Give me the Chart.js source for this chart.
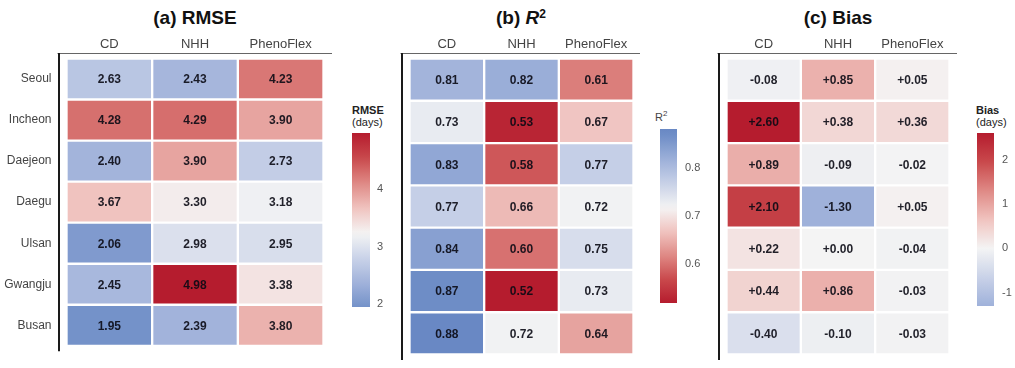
<!DOCTYPE html>
<html>
<head>
<meta charset="utf-8">
<script src="https://cdn.jsdelivr.net/npm/chart.js@4.4.0/dist/chart.umd.min.js"></script>
<style>
  body { margin: 0; background: #fff; font-family: "Liberation Sans", Arial, sans-serif; }
  #wrap { position: relative; width: 1015px; height: 368px; overflow: hidden; }
  canvas { position: absolute; top: 0; }
  .title { position: absolute; top: 8px; width: 200px; text-align: center; font-weight: bold; font-size: 19px; line-height: 19px; color: #111; }
  .title sup { font-size: 12px; position: relative; top: -3px; vertical-align: top; }
  .cbt { position: absolute; font-size: 11px; line-height: 12px; color: #222; }
  .cbt sup { font-size: 8px; vertical-align: top; position: relative; top: -3px; }
</style>
</head>
<body>
<div id="wrap">
  <div class="title" style="left:95px">(a) RMSE</div>
  <div class="title" style="left:421px">(b) <i>R</i><sup>2</sup></div>
  <div class="title" style="left:738px">(c) Bias</div>
  <div class="cbt" style="left:352px; top:104px"><b>RMSE</b><br>(days)</div>
  <div class="cbt" style="left:655px; top:111px; color:#444">R<sup>2</sup></div>
  <div class="cbt" style="left:976px; top:104px"><b>Bias</b><br>(days)</div>

  <canvas id="heatA" width="340" height="368" style="left:0px"></canvas>
  <canvas id="barA" width="60" height="368" style="left:340px"></canvas>
  <canvas id="heatB" width="250" height="368" style="left:395px"></canvas>
  <canvas id="barB" width="60" height="368" style="left:648px"></canvas>
  <canvas id="heatC" width="250" height="368" style="left:712px"></canvas>
  <canvas id="barC" width="50" height="368" style="left:965px"></canvas>
</div>
<script>
// rows and columns
const cities = ["Seoul", "Incheon", "Daejeon", "Daegu", "Ulsan", "Gwangju", "Busan"];
const methods = ["CD", "NHH", "PhenoFlex"];

// RMSE (days)
const rmseCD = [2.63, 4.28, 2.40, 3.67, 2.06, 2.45, 1.95];
const rmseNHH = [2.43, 4.29, 3.90, 3.30, 2.98, 4.98, 2.39];
const rmsePheno = [4.23, 3.90, 2.73, 3.18, 2.95, 3.38, 3.80];

// R squared
const r2CD = [0.81, 0.73, 0.83, 0.77, 0.84, 0.87, 0.88];
const r2NHH = [0.82, 0.53, 0.58, 0.66, 0.60, 0.52, 0.72];
const r2Pheno = [0.61, 0.67, 0.77, 0.72, 0.75, 0.73, 0.64];

// Bias (days)
const biasCD = [-0.08, 2.60, 0.89, 2.10, 0.22, 0.44, -0.40];
const biasNHH = [0.85, 0.38, -0.09, -1.30, 0.00, 0.86, -0.10];
const biasPheno = [0.05, 0.36, -0.02, 0.05, -0.04, -0.03, -0.03];

// colour bar ticks
const rmseTicks = [2, 3, 4];
const r2Ticks = [0.6, 0.7, 0.8];
const biasTicks = [-1, 0, 1, 2];

const FONT = '"Liberation Sans", Arial, sans-serif';

// blue - white - red map, s from -1 to 1
const stops = [
  [-1, [88, 118, 187]],
  [-0.75, [113, 144, 200]],
  [-0.5, [159, 177, 218]],
  [-0.25, [201, 210, 232]],
  [0, [244, 244, 244]],
  [0.25, [240, 195, 191]],
  [0.5, [223, 137, 133]],
  [0.75, [201, 73, 76]],
  [1, [181, 28, 46]]
];
function cmap(s) {
  s = Math.max(-1, Math.min(1, s));
  for (let i = 1; i < stops.length; i++) {
    if (s <= stops[i][0]) {
      const a = stops[i - 1], b = stops[i];
      const t = (s - a[0]) / (b[0] - a[0]);
      const c = a[1].map((v, k) => Math.round(v + (b[1][k] - v) * t));
      return "rgb(" + c.join(",") + ")";
    }
  }
  return "rgb(181,28,46)";
}

function normOf(cols, center) {
  const all = [].concat(...cols);
  const lo = Math.min(...all), hi = Math.max(...all);
  const mid = center === undefined ? all.reduce((a, b) => a + b, 0) / all.length : center;
  return { lo: lo, hi: hi, mid: mid, span: Math.max(hi - mid, mid - lo) };
}

const rmseCols = [rmseCD, rmseNHH, rmsePheno];
const r2Cols = [r2CD, r2NHH, r2Pheno];
const biasCols = [biasCD, biasNHH, biasPheno];

const rmseN = normOf(rmseCols);
const r2N = normOf(r2Cols);
const biasN = normOf(biasCols, 0);

const rmseColor = v => cmap((v - rmseN.mid) / rmseN.span);
const r2Color = v => cmap(-(v - r2N.mid) / r2N.span);
const biasColor = v => cmap((v - biasN.mid) / biasN.span);

function makeHeat(id, cols, colorOf, fmt, showRows, pad) {
  const datasets = cities.map((city, r) => ({
    label: city,
    data: cols.map(() => [r, r + 1]),
    vals: cols.map(c => c[r]),
    backgroundColor: cols.map(c => colorOf(c[r])),
    borderColor: "#fff",
    borderWidth: 1.5,
    borderSkipped: false,
    barPercentage: 1,
    categoryPercentage: 1,
    grouped: false
  }));

  const cellText = {
    id: "cellText",
    afterDatasetsDraw(chart) {
      const ctx = chart.ctx;
      ctx.save();
      ctx.font = "bold 12px " + FONT;
      ctx.fillStyle = "rgba(10,10,20,0.9)";
      ctx.textAlign = "center";
      ctx.textBaseline = "middle";
      chart.data.datasets.forEach((ds, i) => {
        chart.getDatasetMeta(i).data.forEach((bar, j) => {
          const p = bar.getProps(["x", "y", "base"], true);
          ctx.fillText(fmt(ds.vals[j]), p.x, (p.y + p.base) / 2 + 1);
        });
      });
      ctx.restore();
    }
  };

  const frame = {
    id: "frame",
    afterDraw(chart) {
      const a = chart.chartArea, c = chart.ctx;
      c.save();
      c.strokeStyle = "#666";
      c.lineWidth = 1;
      c.beginPath();
      c.moveTo(a.left - 9, a.top - 5);
      c.lineTo(a.right + pad.ext, a.top - 5);
      c.stroke();
      c.strokeStyle = "#1a1a1a";
      c.lineWidth = 2;
      c.beginPath();
      c.moveTo(a.left - 7.5, a.top - 5.5);
      c.lineTo(a.left - 7.5, a.bottom + 5.5);
      c.stroke();
      c.restore();
    }
  };

  return new Chart(document.getElementById(id), {
    type: "bar",
    data: { labels: methods, datasets: datasets },
    options: {
      responsive: false,
      animation: false,
      layout: { padding: { left: pad.left, right: pad.right, top: 0, bottom: 13.5 } },
      plugins: { legend: { display: false }, tooltip: { enabled: false } },
      scales: {
        x: {
          type: "category",
          position: "top",
          grid: { display: false, drawTicks: false },
          border: { display: false },
          ticks: { color: "#444", font: { family: FONT, size: 13 }, padding: 6.5, maxRotation: 0, autoSkip: false },
          afterFit: s => { s.height = 58.5; }
        },
        y: {
          type: "linear",
          display: showRows,
          reverse: true,
          min: 0,
          max: 7,
          grid: { display: false, drawTicks: false },
          border: { display: false },
          afterBuildTicks: axis => { axis.ticks = cities.map((c, i) => ({ value: i + 0.5 })); },
          ticks: {
            color: "#444",
            font: { family: FONT, size: 12 },
            padding: 15,
            callback: v => cities[Math.floor(v)]
          },
          afterFit: s => { s.width = showRows ? 66.5 : 0; }
        }
      }
    },
    plugins: [cellText, frame]
  });
}

function makeBar(id, n, ticks, colorOf, fmtTick, geo) {
  return new Chart(document.getElementById(id), {
    type: "bar",
    data: {
      labels: [""],
      datasets: [{
        data: [[n.lo, n.hi]],
        backgroundColor: c => {
          const ch = c.chart;
          if (!ch.chartArea) return "transparent";
          const y = ch.scales.y;
          const g = ch.ctx.createLinearGradient(0, y.getPixelForValue(n.lo), 0, y.getPixelForValue(n.hi));
          for (let k = 0; k <= 30; k++) {
            g.addColorStop(k / 30, colorOf(n.lo + (n.hi - n.lo) * k / 30));
          }
          return g;
        },
        borderWidth: 0,
        barPercentage: 1,
        categoryPercentage: 1
      }]
    },
    options: {
      responsive: false,
      animation: false,
      layout: { padding: { left: 12, right: 0, top: geo.top, bottom: geo.bottom } },
      plugins: { legend: { display: false }, tooltip: { enabled: false } },
      scales: {
        x: { display: false },
        y: {
          position: "right",
          min: n.lo,
          max: n.hi,
          grid: { display: false, drawTicks: false },
          border: { display: false },
          afterBuildTicks: axis => { axis.ticks = ticks.map(v => ({ value: v })); },
          ticks: { color: "#555", font: { family: FONT, size: 11 }, padding: geo.gap, callback: v => fmtTick(v) },
          afterFit: s => { s.width = geo.axisW; }
        }
      }
    }
  });
}

const fmt2 = v => v.toFixed(2);
const fmtBias = v => (v >= 0 ? "+" : "") + v.toFixed(2);

makeHeat("heatA", rmseCols, rmseColor, fmt2, true, { left: 0, right: 16.5, ext: 8.5 });
makeHeat("heatB", r2Cols, r2Color, fmt2, false, { left: 14.5, right: 11.5, ext: 6.5 });
makeHeat("heatC", biasCols, biasColor, fmtBias, false, { left: 14.5, right: 12.5, ext: 7.5 });

makeBar("barA", rmseN, rmseTicks, rmseColor, v => String(v), { top: 133, bottom: 61, axisW: 30, gap: 7 });
makeBar("barB", r2N, r2Ticks, r2Color, v => v.toFixed(1), { top: 129, bottom: 65, axisW: 31, gap: 8 });
makeBar("barC", biasN, biasTicks, biasColor, v => String(v), { top: 133, bottom: 62, axisW: 21, gap: 8 });
</script>
</body>
</html>
